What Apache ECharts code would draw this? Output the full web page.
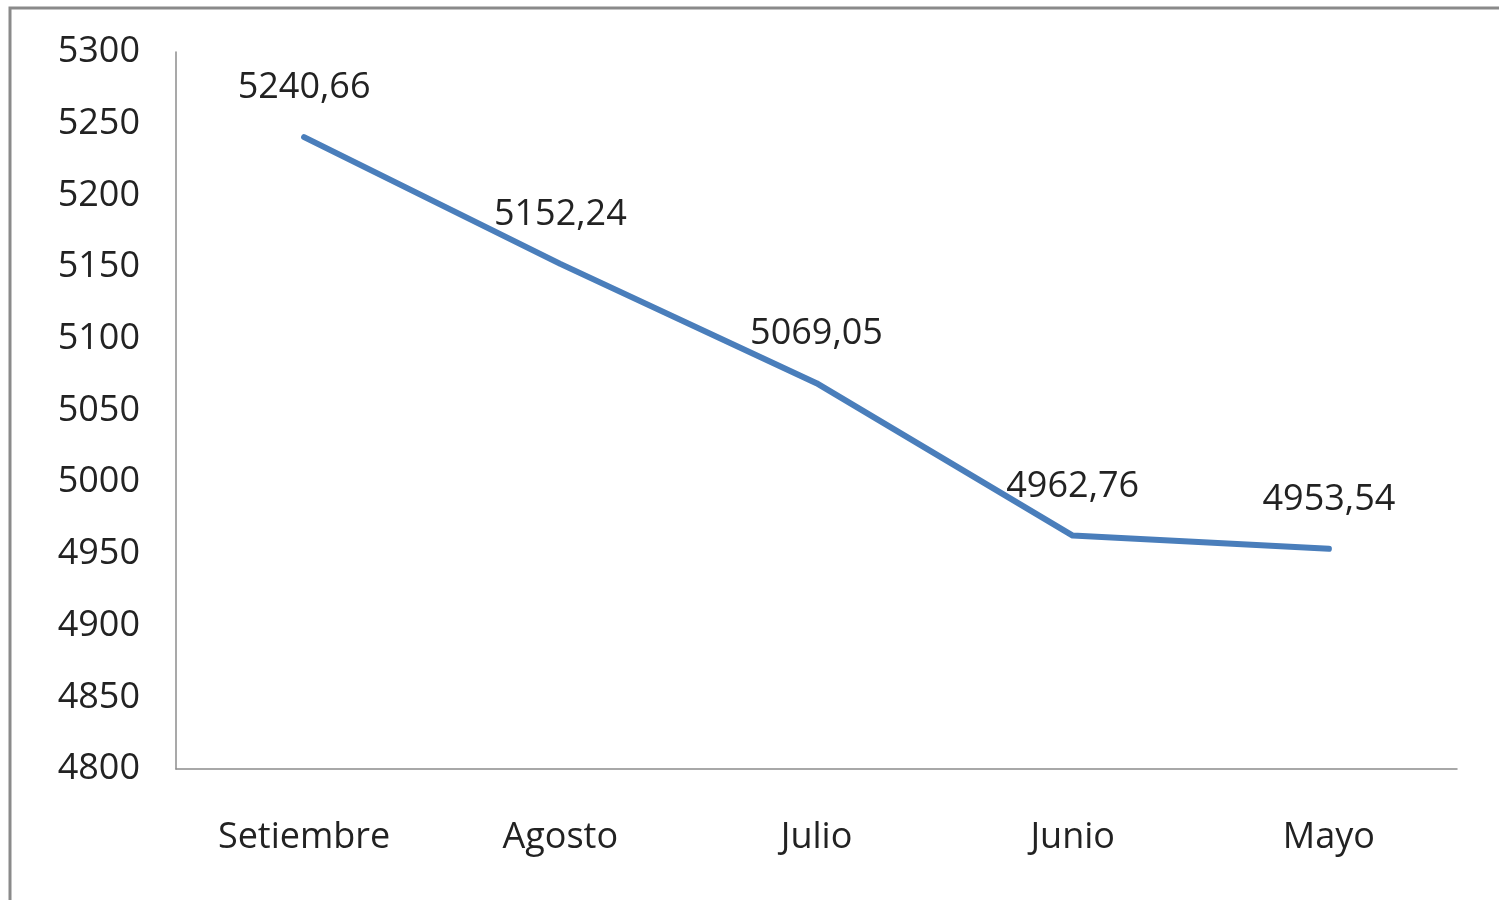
<!DOCTYPE html>
<html>
<head>
<meta charset="utf-8">
<script src="https://cdn.jsdelivr.net/npm/echarts@6/dist/echarts.min.js"></script>
<style>
html,body{margin:0;padding:0;background:#fff;}
#chart{width:1499px;height:900px;}
</style>
</head>
<body>
<div id="chart"></div>
<script>
const categories = ['Setiembre', 'Agosto', 'Julio', 'Junio', 'Mayo'];
const values = [5240.66, 5152.24, 5069.05, 4962.76, 4953.54];
const yMin = 4800, yMax = 5300, yStep = 50;

const chart = echarts.init(document.getElementById('chart'));
const font = '"Open Sans", "Noto Sans", sans-serif';
chart.setOption({
  animation: false,
  backgroundColor: '#fff',
  graphic: [{
    type: 'rect',
    shape: { x: 10, y: 8, width: 1700, height: 1100 },
    style: { fill: 'none', stroke: '#8a8a8a', lineWidth: 3 },
    silent: true, z: 100
  }],
  grid: { left: 176, top: 52, right: 42, bottom: 131 },
  xAxis: {
    type: 'category',
    data: categories,
    boundaryGap: true,
    axisLine: { lineStyle: { color: '#8c8c8c', width: 1.5 } },
    axisTick: { show: false },
    axisLabel: { color: '#222', fontFamily: font, fontSize: 36, margin: 51 }
  },
  yAxis: {
    type: 'value',
    min: yMin, max: yMax, interval: yStep,
    axisLine: { show: true, lineStyle: { color: '#8c8c8c', width: 1.5 } },
    axisTick: { show: false },
    splitLine: { show: false },
    axisLabel: {
      color: '#222', fontFamily: font, fontSize: 36, margin: 36,
      padding: [7, 0, 0, 0],
      formatter: v => String(v)
    }
  },
  series: [{
    type: 'line',
    data: values,
    symbol: 'circle',
    symbolSize: 0.01,
    lineStyle: { color: '#4a7ebb', width: 6, cap: 'round', join: 'round' },
    itemStyle: { color: '#4a7ebb' },
    label: {
      show: true, position: 'top', distance: 31,
      color: '#222', fontFamily: font, fontSize: 36, lineHeight: 36,
      formatter: p => String(p.value).replace('.', ',')
    }
  }]
});
</script>
</body>
</html>
